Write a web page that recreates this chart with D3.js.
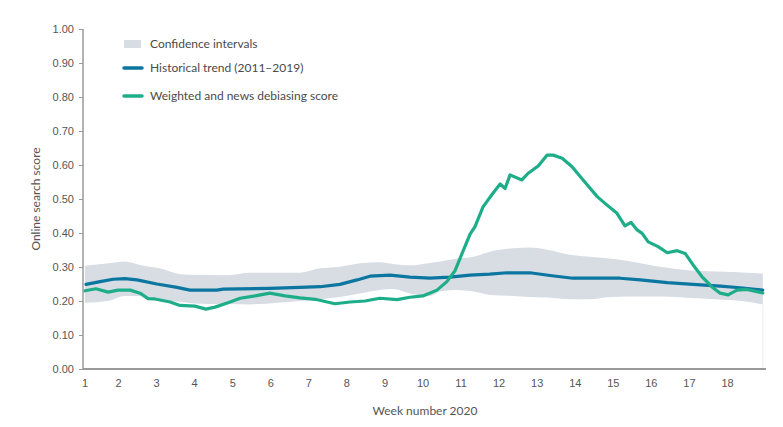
<!DOCTYPE html>
<html>
<head>
<meta charset="utf-8">
<script src="https://cdn.jsdelivr.net/npm/d3@7"></script>
<style>
  html, body { margin: 0; padding: 0; background: #fff; }
  svg { display: block; font-family: Lato, "Open Sans", sans-serif; }
  .tick text { font-variant-numeric: oldstyle-nums; }
</style>
</head>
<body>
<svg id="chart" width="783" height="427"></svg>
<script>
// ---- Data ----
const yTicks = [0, 0.1, 0.2, 0.3, 0.4, 0.5, 0.6, 0.7, 0.8, 0.9, 1.0];
const weekTicks = [1, 2, 3, 4, 5, 6, 7, 8, 9, 10, 11, 12, 13, 14, 15, 16, 17, 18];

const bandWeeks = [1.13, 1.76, 2.18, 2.58, 3.10, 3.63, 4.02, 4.89, 5.47, 6.20, 6.78, 7.31, 7.83, 8.36, 8.88, 9.22, 9.67, 10.20, 10.46, 10.90, 11.34, 11.77, 12.37, 12.82, 13.30, 13.88, 14.40, 14.85, 15.40, 16.29, 17.05, 17.92, 18.40, 18.94];
const bandUpper = [0.304, 0.311, 0.316, 0.306, 0.296, 0.279, 0.277, 0.276, 0.283, 0.283, 0.283, 0.296, 0.301, 0.311, 0.314, 0.309, 0.305, 0.312, 0.316, 0.325, 0.330, 0.345, 0.355, 0.357, 0.350, 0.336, 0.330, 0.326, 0.318, 0.300, 0.290, 0.286, 0.284, 0.281];
const bandLower = [0.195, 0.201, 0.215, 0.215, 0.200, 0.198, 0.193, 0.191, 0.190, 0.195, 0.200, 0.205, 0.212, 0.222, 0.232, 0.235, 0.222, 0.215, 0.228, 0.232, 0.228, 0.218, 0.215, 0.212, 0.210, 0.205, 0.205, 0.211, 0.213, 0.213, 0.209, 0.204, 0.200, 0.190];

const histWeeks = [1.16, 1.53, 1.87, 2.18, 2.50, 3.02, 3.55, 3.89, 4.60, 4.76, 5.99, 6.78, 7.31, 7.83, 8.28, 8.62, 9.15, 9.67, 10.20, 10.72, 11.25, 11.77, 12.22, 12.82, 13.35, 13.95, 14.66, 15.19, 15.72, 16.43, 17.11, 17.82, 18.34, 18.94];
const histValues = [0.249, 0.257, 0.264, 0.266, 0.262, 0.250, 0.240, 0.232, 0.232, 0.235, 0.237, 0.240, 0.242, 0.249, 0.262, 0.273, 0.276, 0.270, 0.267, 0.270, 0.276, 0.279, 0.283, 0.283, 0.275, 0.267, 0.267, 0.267, 0.262, 0.254, 0.249, 0.244, 0.239, 0.232];

const scoreWeeks = [1.13, 1.42, 1.74, 2.00, 2.32, 2.58, 2.79, 2.97, 3.37, 3.63, 4.02, 4.31, 4.55, 4.89, 5.21, 5.60, 5.99, 6.39, 6.78, 7.18, 7.70, 8.10, 8.49, 8.88, 9.33, 9.67, 10.01, 10.38, 10.64, 10.85, 11.04, 11.25, 11.38, 11.59, 11.85, 12.04, 12.17, 12.30, 12.61, 12.77, 13.04, 13.27, 13.43, 13.67, 13.93, 14.22, 14.59, 14.85, 15.11, 15.32, 15.48, 15.64, 15.77, 15.93, 16.19, 16.43, 16.69, 16.90, 17.11, 17.34, 17.60, 17.82, 18.03, 18.26, 18.52, 18.73, 18.94];
const scoreValues = [0.230, 0.236, 0.226, 0.232, 0.232, 0.223, 0.207, 0.206, 0.197, 0.187, 0.185, 0.176, 0.182, 0.195, 0.208, 0.215, 0.223, 0.215, 0.209, 0.205, 0.192, 0.197, 0.200, 0.208, 0.204, 0.211, 0.215, 0.232, 0.257, 0.288, 0.340, 0.397, 0.419, 0.477, 0.517, 0.544, 0.531, 0.571, 0.556, 0.575, 0.597, 0.629, 0.629, 0.620, 0.595, 0.556, 0.507, 0.482, 0.458, 0.421, 0.431, 0.409, 0.399, 0.374, 0.360, 0.342, 0.348, 0.340, 0.306, 0.272, 0.242, 0.223, 0.218, 0.232, 0.234, 0.229, 0.224];

const legendLabels = ["Confidence intervals", "Historical trend (2011\u20132019)", "Weighted and news debiasing score"];
const colors = { band: "#d8dce3", hist: "#0b76a0", score: "#1dae89", axis: "#9a9a9a", text: "#555" };

// ---- Layout ----
const svg = d3.select("#chart");
const plotLeft = 83, plotRight = 766, plotTop = 29, plotBottom = 369;

const x = d3.scaleLinear().domain([2, 18]).range([118, 727]);
const y = d3.scaleLinear().domain([0, 1]).range([plotBottom, plotTop]);

// band
const bandData = bandWeeks.map((w, i) => ({ w, hi: bandUpper[i], lo: bandLower[i] }));
svg.append("path")
  .datum(bandData)
  .attr("fill", colors.band)
  .attr("d", d3.area().x(d => x(d.w)).y0(d => y(d.lo)).y1(d => y(d.hi)).curve(d3.curveMonotoneX));

// faint right edge line
svg.append("line")
  .attr("x1", x(18.94)).attr("x2", x(18.94))
  .attr("y1", y(0.19)).attr("y2", plotBottom)
  .attr("stroke", "#f1f1f1").attr("stroke-width", 1);

// lines
const lineGen = d3.line().x(d => x(d[0])).y(d => y(d[1])).curve(d3.curveLinear);
svg.append("path")
  .datum(histWeeks.map((w, i) => [w, histValues[i]]))
  .attr("fill", "none").attr("stroke", colors.hist).attr("stroke-width", 3.2)
  .attr("stroke-linejoin", "round").attr("stroke-linecap", "round")
  .attr("d", lineGen);
svg.append("path")
  .datum(scoreWeeks.map((w, i) => [w, scoreValues[i]]))
  .attr("fill", "none").attr("stroke", colors.score).attr("stroke-width", 3.2)
  .attr("stroke-linejoin", "round").attr("stroke-linecap", "round")
  .attr("d", lineGen);

// y axis
const yAxis = svg.append("g")
  .attr("transform", `translate(${plotLeft},0)`)
  .call(d3.axisLeft(y).tickValues(yTicks).tickFormat(d3.format(".2f")).tickSize(4).tickPadding(5));
yAxis.select(".domain").attr("stroke", colors.axis).attr("stroke-width", 1.5).attr("d", `M0,${plotTop}V${plotBottom}`);
yAxis.selectAll(".tick line").attr("stroke", colors.axis);
yAxis.selectAll(".tick text").attr("fill", colors.text).style("font-size", "11px");

// x axis
const xAxis = svg.append("g")
  .attr("transform", `translate(0,${plotBottom})`)
  .call(d3.axisBottom(x).tickValues(weekTicks).tickSize(0).tickPadding(10).tickFormat(d3.format("d")));
xAxis.select(".domain").attr("stroke", colors.axis).attr("stroke-width", 2).attr("d", `M${plotLeft},0H${plotRight}`);
xAxis.selectAll(".tick").filter(d => d === 1).attr("transform", `translate(${plotLeft + 2},0)`);
xAxis.selectAll(".tick text").attr("fill", colors.text).style("font-size", "11px");

// axis titles
svg.append("text")
  .attr("transform", `translate(40,${(plotTop + plotBottom) / 2}) rotate(-90)`)
  .attr("text-anchor", "middle").attr("fill", colors.text)
  .style("font-size", "12px").text("Online search score");
svg.append("text")
  .attr("x", 425).attr("y", 415)
  .attr("text-anchor", "middle").attr("fill", colors.text)
  .style("font-size", "12px").text("Week number 2020");

// legend
const legendY = [44, 68, 96];
const lg = svg.append("g");
lg.append("rect").attr("x", 124).attr("y", legendY[0] - 4).attr("width", 17).attr("height", 8).attr("fill", colors.band);
lg.append("line").attr("x1", 124).attr("x2", 142).attr("y1", legendY[1]).attr("y2", legendY[1])
  .attr("stroke", colors.hist).attr("stroke-width", 3.5).attr("stroke-linecap", "round");
lg.append("line").attr("x1", 124).attr("x2", 142).attr("y1", legendY[2]).attr("y2", legendY[2])
  .attr("stroke", colors.score).attr("stroke-width", 3.5).attr("stroke-linecap", "round");
legendLabels.forEach((t, i) => {
  lg.append("text").attr("x", 150).attr("y", legendY[i]).attr("dy", "0.35em")
    .attr("fill", "#4a4a4a").style("font-size", "12px").text(t);
});
</script>
</body>
</html>
